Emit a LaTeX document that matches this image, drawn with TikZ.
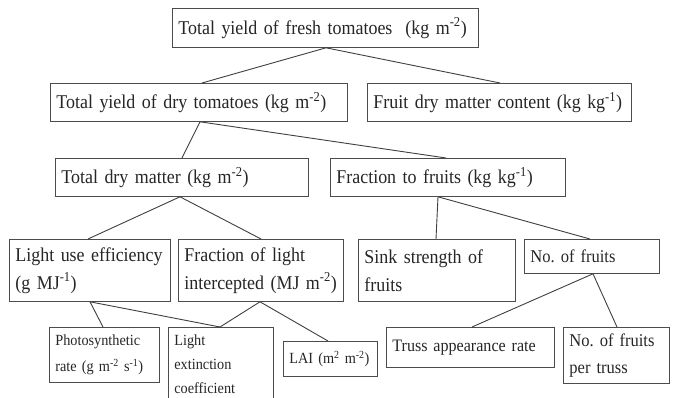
\documentclass[tikz,border=0pt]{standalone}
\usepackage{fontspec}
\setmainfont{Liberation Serif}[FakeStretch=0.92]
\usetikzlibrary{calc}
\newcommand{\sps}[1]{\textsuperscript{#1}}
\frenchspacing
\begin{document}
\begin{tikzpicture}[x=1pt,y=-1pt,
  box/.style={draw=black!70, line width=0.8pt, anchor=north west, align=left,
    inner xsep=6pt, inner ysep=2pt, text=black!85, font=\fontsize{19.5}{28}\selectfont},
  small/.style={font=\fontsize{15.5}{26}\selectfont},
  smallmid/.style={font=\fontsize{17.5}{27}\selectfont},
  mid/.style={font=\fontsize{18}{27}\selectfont},
  link/.style={draw=black!75, line width=0.9pt}]
\useasboundingbox[fill=white] (0,0) rectangle (673,398);
% row 1
\node[box, text width=294pt, minimum height=39pt] (top) at (172,8) {Total yield of fresh tomatoes\ \ (kg m\sps{-2})};
% row 2
\node[box, text width=285pt, minimum height=38pt] (r2l) at (50,83) {Total yield of dry tomatoes (kg m\sps{-2})};
\node[box, text width=252pt, minimum height=38pt] (r2r) at (367,83) {Fruit dry matter content (kg kg\sps{-1})};
% row 3
\node[box, text width=241pt, minimum height=38pt] (r3l) at (55,158) {Total dry matter (kg m\sps{-2})};
\node[box, text width=223pt, minimum height=38pt] (r3r) at (330,158) {Fraction to fruits (kg kg\sps{-1})};
% row 4
\node[box, text width=149pt, minimum height=62pt] (lue) at (9,239) {Light use efficiency\\(g MJ\sps{-1})};
\node[box, text width=153pt, minimum height=62pt] (fli) at (178,239) {Fraction of light\\intercepted (MJ m\sps{-2})};
\node[box, text width=145pt, minimum height=62pt] (sink) at (358,239) {Sink strength of\\fruits};
\node[box, mid, text width=123pt, minimum height=34pt] (nof) at (524,239) {No. of fruits};
% row 5
\node[box, small, text width=98pt, minimum height=55pt] (ps) at (49,327) {Photosynthetic\\rate (g m\sps{-2} s\sps{-1})};
\node[box, font=\fontsize{15.5}{24}\selectfont] (lec) at (168,327) {\parbox[b][78pt][t]{93pt}{\vspace{5pt}Light\\extinction\\coefficient}};
\node[box, small, text width=82pt, minimum height=35pt] (lai) at (283,341) {LAI (m\sps{2} m\sps{-2})};
\node[box, smallmid, text width=156pt, minimum height=40pt] (truss) at (386,327) {Truss appearance rate};
\node[box, mid, text width=94pt, minimum height=56pt] (npt) at (563,327) {No. of fruits\\per truss};
% connectors
\draw[link] ($(top.south west)+(154,0)$) -- ($(r2l.north west)+(152,0)$);
\draw[link] ($(top.south west)+(154,0)$) -- ($(r2r.north west)+(133,0)$);
\draw[link] ($(r2l.south west)+(150,0)$) -- ($(r3l.north west)+(127,0)$);
\draw[link] ($(r2l.south west)+(150,0)$) -- ($(r3r.north west)+(116,0)$);
\draw[link] ($(r3l.south west)+(125,0)$) -- ($(lue.north west)+(79,0)$);
\draw[link] ($(r3l.south west)+(125,0)$) -- ($(fli.north west)+(83,0)$);
\draw[link] ($(r3r.south west)+(108,0)$) -- ($(sink.north west)+(78,0)$);
\draw[link] ($(r3r.south west)+(108,0)$) -- ($(nof.north west)+(66,0)$);
\draw[link] ($(lue.south west)+(81,0)$) -- ($(ps.north west)+(54,0)$);
\draw[link] ($(lue.south west)+(81,0)$) -- ($(lec.north west)+(52,0)$);
\draw[link] ($(fli.south west)+(82,0)$) -- ($(lec.north west)+(52,0)$);
\draw[link] ($(fli.south west)+(82,0)$) -- ($(lai.north west)+(45,0)$);
\draw[link] ($(nof.south west)+(69,0)$) -- ($(truss.north west)+(86,0)$);
\draw[link] ($(nof.south west)+(69,0)$) -- ($(npt.north west)+(54,0)$);
\end{tikzpicture}
\end{document}
